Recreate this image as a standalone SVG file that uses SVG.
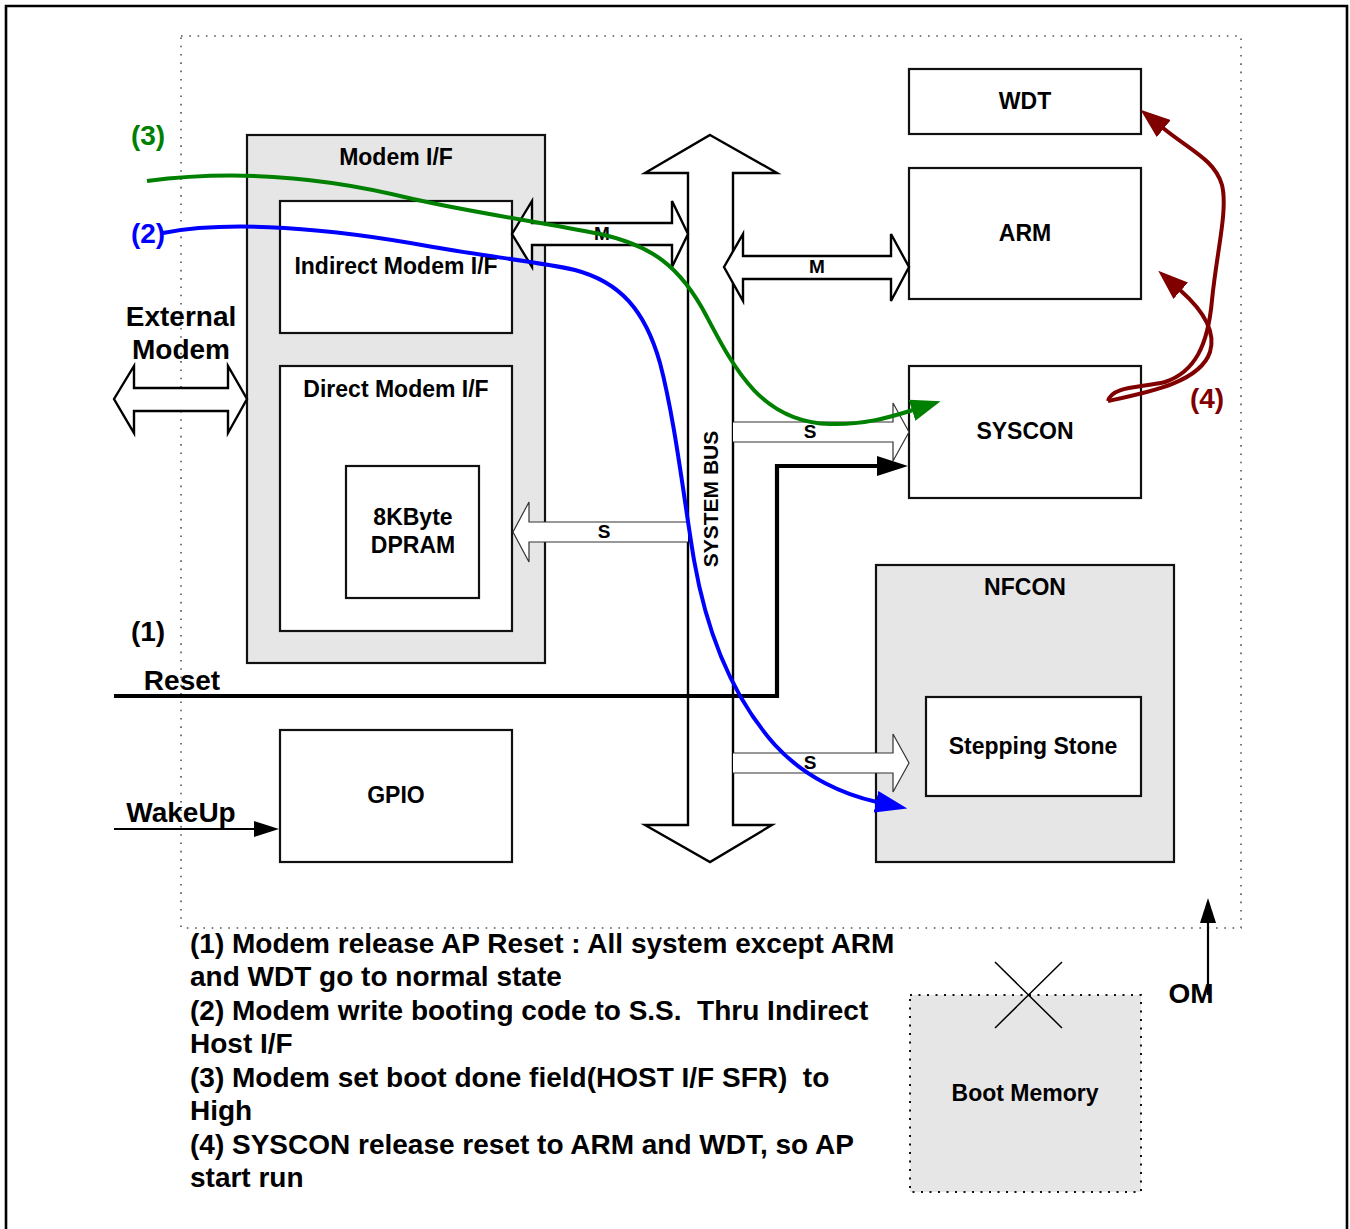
<svg xmlns="http://www.w3.org/2000/svg" width="1350" height="1229" viewBox="0 0 1350 1229">
<style>
text{font-family:"Liberation Sans",Arial,sans-serif;font-weight:bold;fill:#000}
.box{fill:#fff;stroke:#111;stroke-width:2.2}
.gbox{fill:#e6e6e6;stroke:#111;stroke-width:2.2}
.t23{font-size:23px;text-anchor:middle}
.t28{font-size:28px;text-anchor:middle}
.t18{font-size:19px;text-anchor:middle}
.fat{fill:#fff;stroke:#000;stroke-width:2.4;stroke-linejoin:miter}
.thin{fill:#fff;stroke:#333;stroke-width:1.2}
.note{font-size:28px}
</style>
<defs>
<marker id="mg" markerUnits="userSpaceOnUse" markerWidth="32" markerHeight="22" refX="1" refY="11" orient="auto"><path d="M0,0 L30,11 L0,22 Z" fill="#008000"/></marker>
<marker id="mb" markerUnits="userSpaceOnUse" markerWidth="34" markerHeight="22" refX="1" refY="11" orient="auto"><path d="M0,0 L32,11 L0,22 Z" fill="#0000ff"/></marker>
<marker id="mr" markerUnits="userSpaceOnUse" markerWidth="32" markerHeight="22" refX="1" refY="11" orient="auto"><path d="M0,0 L30,11 L0,22 Z" fill="#800000"/></marker>
<marker id="mk" markerUnits="userSpaceOnUse" markerWidth="32" markerHeight="22" refX="1" refY="11" orient="auto"><path d="M0,1 L31,11 L0,21 Z" fill="#000"/></marker>
<marker id="mks" markerUnits="userSpaceOnUse" markerWidth="27" markerHeight="18" refX="1" refY="9" orient="auto"><path d="M0,1 L25,9 L0,17 Z" fill="#000"/></marker>
</defs>

<path d="M6,1229 V6 H1347 V1229" fill="none" stroke="#000" stroke-width="2.6"/>
<rect x="181" y="36" width="1060" height="892" fill="none" stroke="#555" stroke-width="1.6" stroke-dasharray="1.6,6.7"/>

<g id="modem-if"><rect class="gbox" x="247" y="135" width="298" height="528"/><text class="t23" x="396" y="165">Modem I/F</text></g>
<g id="indirect-modem-if"><rect class="box" x="280" y="201" width="232" height="132"/><text class="t23" x="396" y="274">Indirect Modem I/F</text></g>
<g id="direct-modem-if"><rect class="box" x="280" y="366" width="232" height="265"/><text class="t23" x="396" y="397">Direct Modem I/F</text></g>
<g id="dpram"><rect class="box" x="346" y="466" width="133" height="132"/><text class="t23" x="413" y="525">8KByte</text><text class="t23" x="413" y="553">DPRAM</text></g>
<g id="gpio"><rect class="box" x="280" y="730" width="232" height="132"/><text class="t23" x="396" y="803">GPIO</text></g>
<g id="wdt"><rect class="box" x="909" y="69" width="232" height="65"/><text class="t23" x="1025" y="109">WDT</text></g>
<g id="arm"><rect class="box" x="909" y="168" width="232" height="131"/><text class="t23" x="1025" y="241">ARM</text></g>
<g id="syscon"><rect class="box" x="909" y="366" width="232" height="132"/><text class="t23" x="1025" y="439">SYSCON</text></g>
<g id="nfcon"><rect class="gbox" x="876" y="565" width="298" height="297"/><text class="t23" x="1025" y="595">NFCON</text></g>
<g id="stepping-stone"><rect class="box" x="926" y="697" width="215" height="99"/><text class="t23" x="1033" y="754">Stepping Stone</text></g>
<g id="boot-memory"><rect x="910" y="995" width="231" height="197" fill="#e6e6e6" stroke="#111" stroke-width="2" stroke-dasharray="2,6.5"/><text class="t23" x="1025" y="1101">Boot Memory</text>
<path d="M995,962 L1062,1028 M1062,962 L995,1028" stroke="#000" stroke-width="1.5"/></g>

<g id="system-bus">
<polygon class="fat" points="710,135 777,173 733,173 733,825 772,825 710,862 645,825 688,825 688,173 645,173"/>
<text font-size="21" text-anchor="middle" transform="translate(718,499) rotate(-90)">SYSTEM BUS</text>
</g>

<g id="labels">
<text class="t28" x="181" y="326">External</text>
<text class="t28" x="181" y="359">Modem</text>
<text class="t28" x="148" y="145" style="fill:#008000">(3)</text>
<text class="t28" x="148" y="243" style="fill:#0000ff">(2)</text>
<text class="t28" x="148" y="641">(1)</text>
<text class="t28" x="182" y="690">Reset</text>
<text class="t28" x="181" y="822">WakeUp</text>
<text class="t28" x="1207" y="408" style="fill:#800000">(4)</text>
<text class="t28" x="1191" y="1003">OM</text>
</g>

<g id="connectors">
<polygon class="fat" points="114,399 134,366 134,388 228,388 228,366 247,399 228,433 228,411 134,411 134,433"/>
<polygon class="fat" points="512,234 532,201 532,223 672,223 672,201 688,234 672,267 672,245 532,245 532,267"/>
<text class="t18" x="602" y="240">M</text>
<polygon class="fat" points="724,267 743,234 743,256 891,256 891,234 909,267 891,301 891,279 743,279 743,301"/>
<text class="t18" x="817" y="273">M</text>
<path class="thin" d="M733,422 H893 V403 L909,432 L893,461 V442 H733"/>
<text class="t18" x="810" y="438">S</text>
<path class="thin" d="M688,522 H529 V502 L513,532 L529,562 V542 H688"/>
<text class="t18" x="604" y="538">S</text>
<path class="thin" d="M733,753 H893 V734 L909,763 L893,792 V773 H733"/>
<text class="t18" x="810" y="769">S</text>

<path d="M114,696 H777 V466 H878" fill="none" stroke="#000" stroke-width="4.2" marker-end="url(#mk)"/>
<path d="M114,829 H255" fill="none" stroke="#000" stroke-width="2" marker-end="url(#mks)"/>
<path d="M1208,995 V922" fill="none" stroke="#000" stroke-width="2.2" marker-end="url(#mks)"/>

<path d="M147,181 C200,174 290,168 413,199 C470,212 540,222 600,234 C650,245 680,265 707,317 C735,370 762,422 830,424 C862,425 888,418 913,410" fill="none" stroke="#008000" stroke-width="4" marker-end="url(#mg)"/>
<path d="M163,233 C230,220 330,228 433,247 C490,257 540,262 575,270 C620,282 645,310 660,363 C675,420 684,500 694,560 C708,640 735,700 775,745 C805,778 845,795 877,802" fill="none" stroke="#0000ff" stroke-width="4" marker-end="url(#mb)"/>
<path d="M1108,401 C1112,386 1140,388 1165,382 C1195,372 1208,345 1212,300 C1217,250 1228,210 1222,185 C1215,160 1190,150 1163,128" fill="none" stroke="#800000" stroke-width="4" marker-end="url(#mr)"/>
<path d="M1108,401 C1150,392 1200,382 1210,352 C1216,332 1205,312 1180,290" fill="none" stroke="#800000" stroke-width="4" marker-end="url(#mr)"/>
</g>

<g id="notes" class="note">
<text class="note" x="190" y="953">(1) Modem release AP Reset : All system except ARM</text>
<text class="note" x="190" y="986">and WDT go to normal state</text>
<text class="note" x="190" y="1020" xml:space="preserve">(2) Modem write booting code to S.S.  Thru Indirect</text>
<text class="note" x="190" y="1053">Host I/F</text>
<text class="note" x="190" y="1087" xml:space="preserve">(3) Modem set boot done field(HOST I/F SFR)  to</text>
<text class="note" x="190" y="1120">High</text>
<text class="note" x="190" y="1154">(4) SYSCON release reset to ARM and WDT, so AP</text>
<text class="note" x="190" y="1187">start run</text>
</g>
</svg>
